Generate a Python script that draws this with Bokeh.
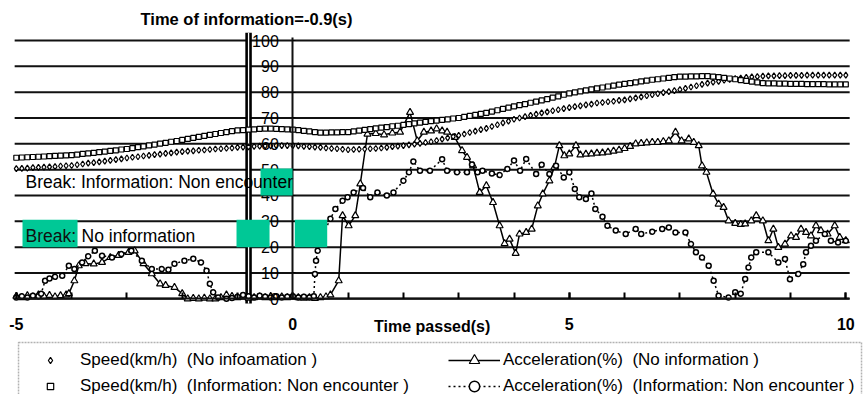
from bokeh.plotting import figure
from bokeh.models import (Range1d, LinearAxis, FixedTicker, Label, BoxAnnotation,
                          Legend, LegendItem)
from bokeh.embed import file_html
from bokeh.resources import INLINE

# ---------------- data ----------------
info_time = -0.8          # position of the "time of information" double line
x_major = [-5, 0, 5, 10]
x_major_labels = ["-5", "0", "5", "10"]
x_minor = list(range(-5, 11))
y_ticks = list(range(0, 101, 10))

# speed samples every 0.1 s from -5 to 10
t_speed = [round(-5 + 0.1 * i, 1) for i in range(151)]
speed_noinfo = [
    50.4, 50.5, 50.6, 50.8, 50.9, 51.0, 51.1, 51.2, 51.4, 51.5, 51.6,
    51.9, 52.2, 52.5, 52.7, 53.0, 53.3, 53.6, 53.9, 54.2, 54.5,
    54.8, 55.0, 55.3, 55.5, 55.8, 56.0, 56.3, 56.5, 56.8, 57.0,
    57.2, 57.3, 57.5, 57.6, 57.8,
    58.0, 58.1, 58.3, 58.4, 58.6,
    58.7, 58.8, 59.0, 59.1, 59.2,
    59.2, 59.3, 59.3, 59.3, 59.3,
    59.2, 59.0, 58.9, 58.7, 58.6,
    58.4, 58.2, 58.1, 57.9, 57.7,
    57.8, 57.9, 58.0, 58.1, 58.2,
    58.4, 58.6, 58.9, 59.1, 59.3,
    59.6, 59.9, 60.2, 60.5, 60.8,
    61.3, 61.8, 62.3, 62.8, 63.3,
    63.8, 64.4, 64.9, 65.5, 66.0,
    66.7, 67.4, 68.1, 68.8, 69.5,
    70.0, 70.5, 71.0, 71.5, 72.0,
    72.4, 72.8, 73.2, 73.6, 74.0,
    74.4, 74.7, 75.1, 75.4, 75.8,
    76.0, 76.3, 76.5, 76.8, 77.0,
    77.4, 77.8, 78.2, 78.6, 79.0,
    79.4, 79.8, 80.2, 80.6, 81.0,
    81.5, 82.0, 82.5, 83.0, 83.5,
    83.9, 84.2, 84.6, 84.9, 85.3,
    85.5, 85.7, 85.9, 86.0, 86.2,
    86.3, 86.3, 86.4, 86.4, 86.5,
    86.5, 86.5, 86.6, 86.6, 86.6,
    86.6, 86.6, 86.6, 86.6, 86.6,
]
speed_info = [
    54.6, 54.7, 54.8, 54.9, 55.0, 55.1, 55.2, 55.3, 55.4, 55.5, 55.6,
    55.8, 56.1, 56.3, 56.5, 56.8, 57.0, 57.3, 57.5, 57.8, 58.0,
    58.3, 58.7, 59.0, 59.4, 59.7, 60.1, 60.4, 60.8, 61.1, 61.5,
    61.9, 62.3, 62.7, 63.1, 63.5,
    63.8, 64.2, 64.5, 64.9, 65.2,
    65.3, 65.5, 65.6, 65.8, 65.9,
    65.9, 65.8, 65.7, 65.6, 65.5,
    65.3, 65.0, 64.8, 64.5, 64.3,
    64.3, 64.4, 64.4, 64.5, 64.5,
    64.8, 65.1, 65.4, 65.7, 66.0,
    66.3, 66.5, 66.8, 67.0, 67.3,
    67.6, 67.9, 68.2, 68.5, 68.8,
    69.0, 69.3, 69.5, 69.8, 70.0,
    70.4, 70.8, 71.2, 71.6, 72.0,
    72.5, 73.0, 73.5, 74.0, 74.5,
    75.0, 75.4, 75.9, 76.3, 76.8,
    77.3, 77.9, 78.4, 79.0, 79.5,
    79.9, 80.3, 80.7, 81.1, 81.5,
    81.8, 82.2, 82.5, 82.9, 83.2,
    83.5, 83.8, 84.2, 84.5, 84.8,
    85.0, 85.3, 85.5, 85.8, 86.0,
    86.0, 86.1, 86.1, 86.2, 86.2,
    86.0, 85.8, 85.5, 85.3, 85.0,
    84.7, 84.4, 84.1, 83.8, 83.5,
    83.4, 83.4, 83.3, 83.3, 83.2,
    83.2, 83.2, 83.1, 83.1, 83.1,
    83.1, 83.0, 83.0, 83.0, 83.0,
]

t_acc_noinfo = [
    -5.0, -4.9, -4.8, -4.7, -4.6, -4.5, -4.4, -4.3, -4.2, -4.1,
    -4.05, -3.95, -3.87, -3.75, -3.6, -3.45, -3.3, -3.15, -2.97, -2.86,
    -2.7, -2.55, -2.4, -2.3, -2.14, -2.0, -1.9, -1.8, -1.7, -1.6,
    -1.5, -1.4, -1.3, -1.2, -1.1, -1.0, -0.9, -0.8, -0.7, -0.6,
    -0.5, -0.4, -0.3, -0.2, -0.1, 0.0, 0.1, 0.2, 0.3, 0.4,
    0.5, 0.6, 0.68, 0.83, 0.9, 1.01, 1.13, 1.22, 1.35, 1.5,
    1.65, 1.8, 1.94, 2.12, 2.25, 2.37, 2.5, 2.6, 2.7, 2.79,
    2.93, 3.06, 3.15, 3.26, 3.38, 3.5, 3.62, 3.74, 3.83, 3.92,
    4.03, 4.1, 4.22, 4.32, 4.43, 4.52, 4.64, 4.73, 4.82, 4.91,
    5.0, 5.12, 5.2, 5.3, 5.4, 5.5, 5.6, 5.7, 5.8, 5.9,
    6.0, 6.1, 6.2, 6.3, 6.4, 6.5, 6.6, 6.7, 6.8,
    6.92, 7.03, 7.16, 7.25, 7.34, 7.4, 7.48, 7.6, 7.7, 7.79,
    7.88, 8.0, 8.1, 8.18, 8.29, 8.38, 8.5, 8.6, 8.69, 8.78,
    8.9, 9.01, 9.1, 9.19, 9.28, 9.37, 9.46, 9.55, 9.67, 9.8,
    9.89, 10.0,
]
acc_noinfo = [
    1.0, 0.5, 1.2, 0.8, 1.5, 1.0, 1.3, 0.8, 1.2, 1.5,
    2.0, 7.0, 12.8, 13.6, 13.5, 14.1, 16.0, 16.8, 18.0, 18.6,
    13.6, 9.7, 5.8, 5.2, 4.4, 2.0, 0.0, 0.2, 0.0, 0.3,
    0.0, 0.0, 0.5, 1.5, 1.0, 0.5, 0.8, 0.3, 0.5, 0.8,
    0.5, 1.0, 0.5, 0.8, 0.5, 0.8, 0.5, 0.3, 0.5, 0.2,
    0.5, 0.8, 1.5, 7.0, 32.2, 28.3, 32.2, 44.5, 63.8, 64.0,
    63.5, 64.2, 64.5, 72.2, 61.2, 64.5, 65.0, 65.8, 65.0, 64.5,
    62.5, 57.4, 54.8, 51.5, 41.2, 43.8, 37.3, 28.3, 21.4, 23.1,
    17.6, 25.1, 25.7, 27.0, 36.0, 40.6, 45.7, 50.9, 59.3, 55.4,
    56.1, 59.3, 55.7, 56.0, 56.1, 56.4, 56.5, 56.8, 57.2, 57.6,
    58.2, 59.0, 60.0, 60.2, 60.4, 60.6, 60.6, 60.9, 61.2,
    64.5, 61.2, 61.9, 60.6, 59.3, 51.5, 49.0, 40.6, 36.7, 35.4,
    30.2, 29.2, 28.8, 29.0, 30.2, 32.2, 30.2, 22.5, 27.0, 19.9,
    21.2, 24.4, 23.8, 27.0, 25.7, 24.4, 28.3, 26.4, 25.1, 28.3,
    23.8, 22.5,
]

t_acc_info = [
    -5.0, -4.9, -4.8, -4.7, -4.6, -4.55, -4.48, -4.4, -4.3, -4.17,
    -4.05, -3.95, -3.81, -3.7, -3.58, -3.45, -3.27, -3.1, -2.92, -2.73,
    -2.55, -2.37, -2.25, -2.14, -1.96, -1.8, -1.66, -1.56, -1.5, -1.44,
    -1.35, -1.2, -1.1, -1.0, -0.9, -0.8, -0.7, -0.6, -0.5, -0.4,
    -0.3, -0.2, -0.1, 0.0, 0.1, 0.2, 0.3, 0.38, 0.4, 0.42,
    0.45, 0.55, 0.68, 0.77, 0.9, 0.99, 1.1, 1.27, 1.4, 1.53,
    1.7, 1.82, 2.0, 2.1, 2.18, 2.3, 2.48, 2.7, 2.79, 2.97,
    3.15, 3.24, 3.34, 3.43, 3.6, 3.74, 3.88, 4.0, 4.11, 4.22,
    4.4, 4.5, 4.64, 4.76, 4.9, 5.0, 5.1, 5.18, 5.3, 5.4,
    5.47, 5.6, 5.69, 5.84, 6.02, 6.2, 6.3, 6.5, 6.68, 6.8,
    6.92, 7.1, 7.2, 7.29, 7.4, 7.52, 7.61, 7.7, 7.88, 8.0,
    8.1, 8.18, 8.24, 8.29, 8.38, 8.6, 8.78, 8.9, 8.99, 9.14,
    9.23, 9.28, 9.37, 9.46, 9.62, 9.73, 9.86, 10.0,
]
acc_info = [
    0.5, 1.0, 0.5, 1.2, 1.0, 2.0, 7.0, 7.9, 8.5, 8.9,
    12.8, 11.5, 14.1, 16.5, 18.6, 16.7, 16.0, 17.3, 18.6, 14.7,
    11.5, 11.5, 11.2, 13.6, 14.7, 15.5, 14.1, 10.9, 5.8, 2.5,
    0.5, 0.0, 0.3, 0.8, 1.5, 1.0, 0.5, 1.2, 0.8, 0.5,
    1.0, 0.5, 0.8, 1.0, 0.5, 0.8, 0.5, 1.0, 9.6, 14.7,
    18.6, 25.0, 31.0, 34.8, 38.0, 39.3, 41.2, 42.9, 39.3, 41.2,
    40.0, 41.2, 45.7, 49.0, 53.2, 49.6, 49.6, 54.0, 49.6, 49.0,
    49.0, 52.0, 49.0, 49.6, 48.5, 47.9, 50.3, 53.5, 49.6, 54.1,
    48.3, 51.9, 48.3, 51.5, 47.0, 49.0, 42.5, 39.3, 38.6, 40.8,
    34.8, 31.8, 28.3, 26.4, 25.1, 27.0, 25.1, 26.0, 27.0, 27.6,
    25.7, 25.7, 21.2, 18.0, 16.0, 12.8, 7.0, 1.2, 0.5, 2.5,
    2.0, 7.7, 12.1, 16.0, 18.0, 18.0, 14.1, 15.4, 7.6, 9.6,
    13.4, 18.0, 20.5, 22.5, 25.1, 22.5, 21.8, 22.5,
]

# ---------------- figure ----------------
FONT = "Liberation Sans"
GREEN = "#00C896"

p = figure(width=863, height=394, output_backend="svg", toolbar_location=None,
           x_range=Range1d(-5.286, 10.320), y_range=Range1d(-37.05, 115.49),
           x_axis_type=None, y_axis_type=None, title=None,
           min_border_left=0, min_border_right=0, min_border_top=0, min_border_bottom=0)
p.outline_line_color = None
p.background_fill_color = "white"
p.border_fill_color = "white"

# horizontal grid lines
p.segment(x0=-5.03, x1=10.07, y0=y_ticks, y1=y_ticks, line_color="#111111", line_width=2)

# x axis at y = 0
xaxis = LinearAxis(fixed_location=0, bounds=(-5.03, 10.07),
                   ticker=FixedTicker(ticks=x_major, minor_ticks=x_minor))
xaxis.major_label_overrides = dict(zip(x_major, x_major_labels))
xaxis.axis_line_width = 2
xaxis.axis_line_color = "#111111"
xaxis.major_tick_in = 6
xaxis.major_tick_out = 0
xaxis.minor_tick_in = 6
xaxis.minor_tick_out = 0
xaxis.major_tick_line_width = 2
xaxis.minor_tick_line_width = 2
xaxis.major_label_text_font = FONT
xaxis.major_label_text_font_size = "16px"
xaxis.major_label_text_font_style = "bold"
xaxis.major_label_text_color = "black"
xaxis.major_label_standoff = 19
p.add_layout(xaxis, "below")

# y axis at x = 0
yaxis = LinearAxis(fixed_location=0, bounds=(0, 101),
                   ticker=FixedTicker(ticks=y_ticks, minor_ticks=[]))
yaxis.axis_line_width = 2
yaxis.axis_line_color = "#111111"
yaxis.major_tick_in = 3
yaxis.major_tick_out = 0
yaxis.major_label_text_font = FONT
yaxis.major_label_text_font_size = "16px"
yaxis.major_label_text_color = "black"
yaxis.major_label_standoff = 14
p.add_layout(yaxis, "left")

# double line at time of information
p.segment(x0=info_time, x1=info_time, y0=-1.8, y1=103, line_color="black", line_width=6.5)
p.segment(x0=info_time, x1=info_time, y0=-1.8, y1=103, line_color="white", line_width=1.3)

# series
r_c_line = p.line(t_acc_noinfo, acc_noinfo, line_color="black", line_width=1.5)
r_c_pts = p.scatter(t_acc_noinfo, acc_noinfo, marker="triangle", size=7,
                    fill_color="white", line_color="black", line_width=1.2)
r_d_line = p.line(t_acc_info, acc_info, line_color="black", line_width=1.5, line_dash="2 3")
r_d_pts = p.scatter(t_acc_info, acc_info, marker="circle", size=5,
                    fill_color="white", line_color="black", line_width=1.5)
r_a = p.scatter(t_speed, speed_noinfo, marker="diamond", size=6,
                fill_color="white", line_color="black", line_width=1.2)
r_b = p.scatter(t_speed, speed_info, marker="square", size=5,
                fill_color="white", line_color="black", line_width=1.2)

# green boxes
for (l, r, b, t) in [(-4.888, -3.893, 20.0, 30.6), (-1.018, -0.421, 20.0, 30.6),
                     (0.036, 0.622, 20.0, 30.6), (-0.584, -0.005, 40.0, 50.4)]:
    p.add_layout(BoxAnnotation(left=l, right=r, bottom=b, top=t, fill_color=GREEN,
                               fill_alpha=1.0, line_color=None, level="annotation"))

# texts
p.add_layout(Label(x=-0.837, y=108.5, text="Time of information=-0.9(s)",
                   text_align="center", text_baseline="middle", text_font=FONT,
                   text_font_size="16.5px", text_font_style="bold", text_color="black"))
p.add_layout(Label(x=-4.834, y=45.4, text="Break: Information: Non encounter",
                   text_align="left", text_baseline="middle", text_font=FONT,
                   text_font_size="17.5px", text_color="black"))
p.add_layout(Label(x=-4.834, y=24.5, text="Break:",
                   text_align="left", text_baseline="middle", text_font=FONT,
                   text_font_size="17.5px", text_color="#111111"))
p.add_layout(Label(x=-3.821, y=24.5, text="No information",
                   text_align="left", text_baseline="middle", text_font=FONT,
                   text_font_size="17.5px", text_color="black",
                   background_fill_color="white", background_fill_alpha=1.0))
p.add_layout(Label(x=2.52, y=-10.7, text="Time passed(s)",
                   text_align="center", text_baseline="middle", text_font=FONT,
                   text_font_size="16px", text_font_style="bold", text_color="black"))

# legend frame
p.add_layout(BoxAnnotation(left=-4.96, right=10.284, top=-16.9, bottom=-45,
                           fill_color=None, fill_alpha=0, line_color="black",
                           line_width=1.5, line_dash="2 1"))

leg1 = Legend(items=[
    LegendItem(label="Speed(km/h)  (No infoamation )", renderers=[r_a]),
    LegendItem(label="Speed(km/h)  (Information: Non encounter )", renderers=[r_b]),
], location=(42, -5), orientation="vertical")
leg2 = Legend(items=[
    LegendItem(label="Acceleration(%)  (No information )", renderers=[r_c_line, r_c_pts]),
    LegendItem(label="Acceleration(%)  (Information: Non encounter )", renderers=[r_d_line, r_d_pts]),
], location=(448, -5), orientation="vertical")
for lg, gw, st in [(leg1, 16, 22), (leg2, 52, 3)]:
    lg.glyph_width = gw
    lg.glyph_height = 26
    lg.label_height = 26
    lg.label_standoff = st
    lg.spacing = 0
    lg.padding = 0
    lg.margin = 0
    lg.border_line_color = None
    lg.background_fill_alpha = 0
    lg.label_text_font = FONT
    lg.label_text_font_size = "17px"
    lg.label_text_color = "black"
    p.add_layout(lg, "center")

open("out.html", "w").write(file_html(p, INLINE))
